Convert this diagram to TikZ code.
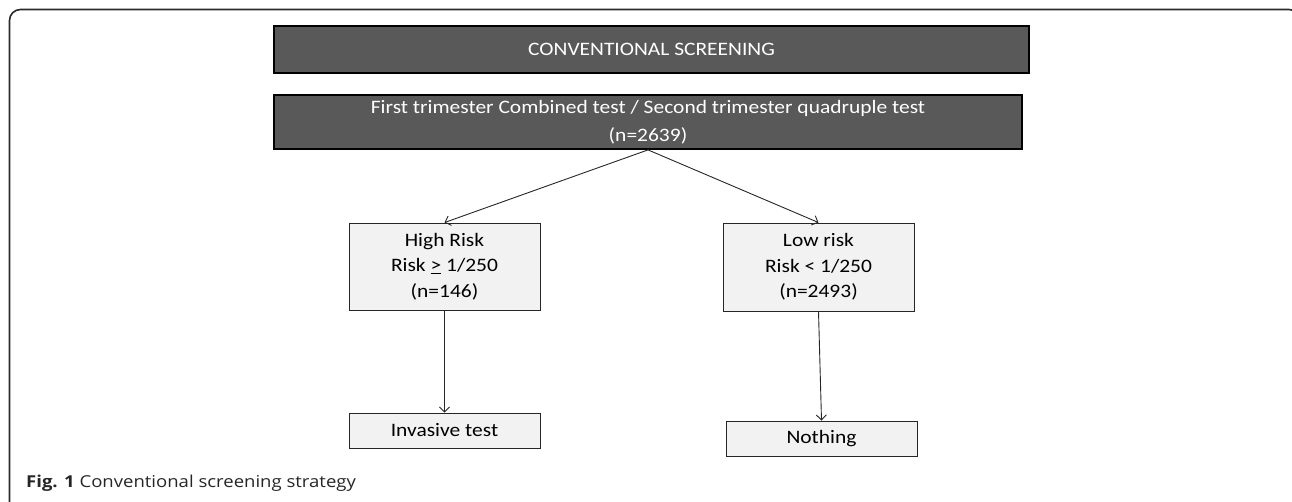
\documentclass[tikz,border=0pt]{standalone}
\usepackage{fontspec}
\setmainfont[FakeStretch=1.13]{Carlito}
\newfontfamily\capfont[FakeStretch=1.13]{Open Sans}
\usetikzlibrary{arrows.meta}
\definecolor{darkbox}{HTML}{595959}
\definecolor{lightbox}{HTML}{F2F2F2}
\definecolor{framecol}{HTML}{2A2A2A}
\tikzset{
  darkstyle/.style={draw=black, line width=1.8pt, fill=darkbox, text=white, align=center, inner sep=0pt, font=\fontsize{19}{28}\selectfont},
  lightstyle/.style={draw=black!85, line width=0.9pt, fill=lightbox, text=black, align=center, inner sep=0pt, font=\fontsize{19}{25.5}\selectfont},
  conn/.style={draw=black!85, line width=0.9pt, -{Straight Barb[length=5pt,width=10pt]}}
}
\begin{document}
\begin{tikzpicture}[x=1pt,y=-1pt]
\useasboundingbox (0,0) rectangle (1292,502);
\begin{scope}
\clip (0,0) rectangle (1292,502);
\draw[framecol, line width=1.6pt, rounded corners=11pt] (9.5,9.5) rectangle (1300,514);
\end{scope}
\node[darkstyle, minimum width=755pt, minimum height=47pt] (box1) at (651.5,49.5) {CONVENTIONAL SCREENING};
\node[darkstyle, minimum width=748pt, minimum height=54pt] (box2) at (648,122) {First trimester Combined test / Second trimester quadruple test\\(n=2639)};
\node[lightstyle, minimum width=191pt, minimum height=87pt] (high) at (444.5,266.5) {High Risk\\Risk \underline{>} 1/250\\(n=146)};
\node[lightstyle, minimum width=191pt, minimum height=88pt] (low) at (818.5,267) {Low risk\\Risk {<} 1/250\\(n=2493)};
\node[lightstyle, minimum width=191pt, minimum height=35pt] (inv) at (444.5,430.5) {Invasive test};
\node[lightstyle, minimum width=191pt, minimum height=35pt] (noth) at (821.5,438.5) {Nothing};
\draw[conn] (box2.south) -- (high.north);
\draw[conn] (box2.south) -- (low.north);
\draw[conn] (high.south) -- (inv.north);
\draw[conn] (low.south) -- (noth.north);
\node[anchor=base west, inner sep=0pt, font=\capfont\fontsize{16.4}{19}\selectfont, text=black!85] (cap) at (26,487) {\textbf{Fig. 1} Conventional screening strategy};
\end{tikzpicture}
\end{document}
